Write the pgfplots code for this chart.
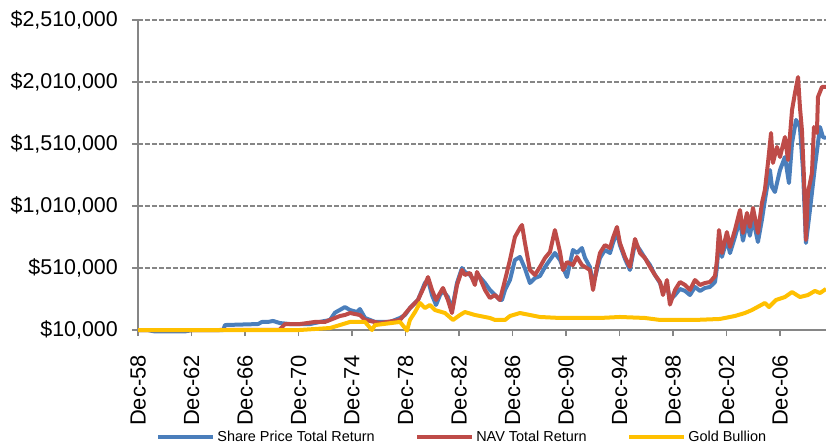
\documentclass[border=0pt]{standalone}
\usepackage{pgfplots}
\pgfplotsset{compat=1.18}
\usepackage{fontspec}
\setmainfont{Liberation Sans}
\definecolor{cblue}{HTML}{4A7EBB}
\definecolor{cred}{HTML}{BE4B48}
\definecolor{cgold}{HTML}{FFC000}
\definecolor{cgrid}{HTML}{868686}
\begin{document}
\begin{tikzpicture}
\begin{axis}[
  name=main,
  scale only axis,
  width=688bp, height=310bp,
  xmin=1958.917, xmax=2010.36,
  ymin=10000, ymax=2510000,
  clip=false,
  scaled y ticks=false,
  axis lines*=left,
  axis line style={cgrid, line width=1.3bp},
  ytick={10000,510000,1010000,1510000,2010000,2510000},
  yticklabels={{\$10,000},{\$510,000},{\$1,010,000},{\$1,510,000},{\$2,010,000},{\$2,510,000}},
  xtick={1958.917,1962.917,1966.917,1970.917,1974.917,1978.917,1982.917,1986.917,1990.917,1994.917,1998.917,2002.917,2006.917},
  xticklabels={Dec-58,Dec-62,Dec-66,Dec-70,Dec-74,Dec-78,Dec-82,Dec-86,Dec-90,Dec-94,Dec-98,Dec-02,Dec-06},
  tick align=outside,
  major tick length=6bp,
  tick style={cgrid, line width=1.3bp},
  ymajorgrids,
  grid style={cgrid, line width=1.3bp, dash pattern=on 5bp off 2bp},
  yticklabel style={font=\fontsize{21.5}{24}\selectfont, inner sep=2bp},
  yticklabel shift=12bp,
  xticklabel style={font=\fontsize{22}{24}\selectfont, rotate=90, anchor=east, inner sep=2bp},
  xticklabel shift=17bp,
  legend columns=3,
  legend style={draw=none, fill=none, at={(0.471,-0.345)}, anchor=center,
    font=\fontsize{14.5}{16}\selectfont, /tikz/every even column/.append style={column sep=38bp}},
  legend image code/.code={\draw[#1, line width=4.5bp] (0bp,0bp) -- (55bp,0bp);},
  every axis plot/.append style={line width=4bp, line join=round, mark=none},
]
\addplot[cblue] coordinates {
(1958.92,10000) (1959.6,10000) (1960.2,-2000) (1962.4,-2000) (1963.0,10000)
(1965.3,10000) (1965.42,50000) (1967.89,58000) (1968.19,75000) (1968.64,75000)
(1969.01,83000) (1969.53,66000) (1970.28,58000) (1971.78,58000) (1972.52,75000)
(1973.27,91000) (1973.65,150000) (1974.39,195000) (1974.77,171000) (1975.29,155000)
(1975.51,179000) (1975.89,107000) (1976.64,75000) (1977.76,75000) (1978.51,107000)
(1978.88,131000) (1979.25,187000) (1979.85,252000) (1980.37,389000) (1980.60,413000)
(1980.90,292000) (1981.20,212000) (1981.50,292000) (1981.72,325000) (1982.09,276000)
(1982.39,171000) (1982.77,389000) (1983.14,510000) (1983.36,478000) (1983.74,454000)
(1984.11,397000) (1984.34,454000) (1984.86,389000) (1985.23,333000) (1985.61,292000)
(1985.98,252000) (1986.13,252000) (1986.36,333000) (1986.73,413000) (1987.10,575000)
(1987.48,599000) (1987.85,506000) (1988.22,389000) (1988.60,429000) (1988.97,445000)
(1989.35,518000) (1989.72,575000) (1990.09,631000) (1990.47,575000) (1990.99,437000)
(1991.44,655000) (1991.74,631000) (1992.11,671000) (1992.34,591000) (1992.71,518000)
(1992.94,373000) (1993.23,494000) (1993.46,591000) (1993.83,655000) (1994.21,631000)
(1994.43,712000) (1994.73,800000) (1994.95,695000) (1995.33,583000) (1995.70,494000)
(1996.08,712000) (1996.45,655000) (1996.82,591000) (1997.20,534000) (1997.57,454000)
(1997.95,389000) (1998.17,316000) (1998.47,373000) (1998.69,252000) (1999.07,292000)
(1999.44,341000) (1999.82,325000) (2000.19,292000) (2000.56,357000) (2000.94,325000)
(2001.31,349000) (2001.68,357000) (2002.06,397000) (2002.21,520000) (2002.36,760000)
(2002.58,600000) (2002.95,740000) (2003.18,630000) (2003.55,760000) (2003.93,900000)
(2004.15,730000) (2004.45,880000) (2004.67,770000) (2004.90,910000) (2005.27,720000)
(2005.57,900000) (2005.79,1058000) (2006.17,1300000) (2006.32,1163000) (2006.54,1123000)
(2006.92,1300000) (2007.29,1405000) (2007.59,1195000) (2007.82,1518000) (2008.12,1704000)
(2008.41,1647000) (2008.64,1300000) (2008.86,712000) (2009.16,978000) (2009.53,1324000)
(2009.91,1647000) (2010.13,1566000) (2010.36,1558000)
};
\addlegendentry{Share Price Total Return}
\addplot[cred] coordinates {
(1958.92,10000) (1965.0,10000) (1969.5,12000) (1969.91,58000) (1971.03,58000)
(1972.15,75000) (1972.90,75000) (1973.27,91000) (1974.02,123000) (1974.39,131000)
(1974.77,147000) (1975.51,131000) (1975.89,91000) (1977.01,66000) (1978.51,91000)
(1979.25,187000) (1979.85,252000) (1980.37,373000) (1980.60,437000) (1980.90,333000)
(1981.20,252000) (1981.50,308000) (1981.72,349000) (1982.09,252000) (1982.39,147000)
(1982.77,373000) (1983.14,494000) (1983.36,454000) (1983.74,470000) (1984.11,373000)
(1984.26,478000) (1984.49,429000) (1984.86,333000) (1985.23,268000) (1985.61,292000)
(1985.98,252000) (1986.36,413000) (1986.73,575000) (1987.10,760000) (1987.48,833000)
(1987.63,857000) (1987.85,712000) (1988.22,494000) (1988.60,454000) (1988.97,518000)
(1989.35,591000) (1989.72,639000) (1990.09,816000) (1990.47,639000) (1990.69,494000)
(1991.00,558000) (1991.44,534000) (1991.74,599000) (1992.11,534000) (1992.71,494000)
(1992.94,333000) (1993.23,518000) (1993.46,631000) (1993.83,695000) (1994.21,671000)
(1994.43,752000) (1994.73,841000) (1994.95,712000) (1995.33,599000) (1995.70,518000)
(1996.08,744000) (1996.45,631000) (1996.82,591000) (1997.20,518000) (1997.57,454000)
(1997.95,397000) (1998.17,292000) (1998.47,413000) (1998.69,215000) (1999.07,333000)
(1999.44,397000) (1999.82,373000) (2000.19,333000) (2000.56,413000) (2000.94,373000)
(2001.31,389000) (2001.68,397000) (2002.06,445000) (2002.21,575000) (2002.36,816000)
(2002.58,631000) (2002.95,800000) (2003.18,679000) (2003.55,816000) (2003.93,978000)
(2004.15,792000) (2004.45,954000) (2004.67,841000) (2004.90,994000) (2005.27,792000)
(2005.57,1034000) (2005.79,1139000) (2006.02,1357000) (2006.25,1599000) (2006.39,1357000)
(2006.69,1486000) (2006.92,1405000) (2007.29,1566000) (2007.52,1381000) (2007.82,1784000)
(2008.04,1921000) (2008.27,2050000) (2008.41,1808000) (2008.56,1623000) (2008.71,1244000)
(2008.86,736000) (2009.01,1115000) (2009.31,1276000) (2009.46,1647000) (2009.68,1599000)
(2009.76,1889000) (2010.06,1970000) (2010.36,1970000)
};
\addlegendentry{NAV Total Return}
\addplot[cgold] coordinates {
(1958.92,10000) (1971.0,10000) (1973.27,26000) (1974.02,50000) (1974.77,75000)
(1975.89,75000) (1976.41,10000) (1976.64,50000) (1978.51,75000) (1978.88,26000)
(1979.03,5000) (1979.25,91000) (1979.63,155000) (1980.00,228000) (1980.37,187000)
(1980.75,212000) (1981.12,171000) (1981.87,147000) (1982.47,91000) (1982.99,131000)
(1983.36,155000) (1984.11,131000) (1985.23,107000) (1985.61,91000) (1986.36,91000)
(1986.73,123000) (1987.48,147000) (1987.85,139000) (1988.97,115000) (1990.47,107000)
(1992.11,107000) (1993.46,107000) (1994.95,115000) (1996.82,107000) (1997.95,91000)
(1999.44,91000) (2000.56,91000) (2002.43,99000) (2003.55,123000) (2004.30,147000)
(2004.82,171000) (2005.79,228000) (2006.10,195000) (2006.62,252000) (2007.29,276000)
(2007.82,316000) (2008.41,276000) (2009.01,292000) (2009.53,325000) (2009.91,308000)
(2010.36,341000)
};
\addlegendentry{Gold Bullion}
\end{axis}
\pgfresetboundingbox
\path ([xshift=-138bp, yshift=-115bp]main.south west) rectangle ([yshift=20bp]main.north east);
\end{tikzpicture}
\end{document}
